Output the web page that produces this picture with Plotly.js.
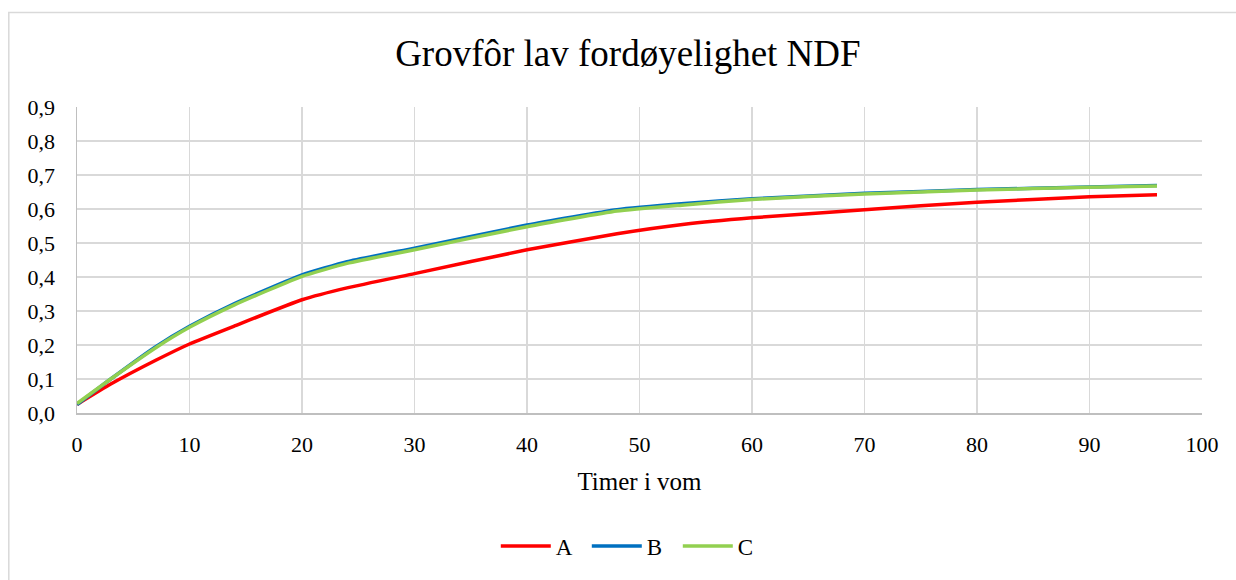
<!DOCTYPE html>
<html>
<head>
<meta charset="utf-8">
<script src="https://cdn.plot.ly/plotly-3.0.1.min.js"></script>
<style>
html,body{margin:0;padding:0;background:#fff;}
#chart{width:1236px;height:580px;}
</style>
</head>
<body>
<div id="chart"></div>
<script>
var hours = [0, 3, 7, 10, 14, 20, 24, 30, 40, 48, 54, 60, 70, 80, 90, 96];
var seriesA = [0.025, 0.085, 0.155, 0.203, 0.256, 0.333, 0.368, 0.410, 0.480, 0.527, 0.555, 0.574, 0.598, 0.620, 0.636, 0.642];
var seriesB = [0.025, 0.100, 0.195, 0.255, 0.322, 0.406, 0.445, 0.485, 0.553, 0.598, 0.616, 0.630, 0.646, 0.657, 0.665, 0.669];
var seriesC = [0.028, 0.100, 0.192, 0.252, 0.318, 0.402, 0.440, 0.480, 0.548, 0.594, 0.612, 0.628, 0.644, 0.656, 0.664, 0.668];
var names = ['A', 'B', 'C'];
var colors = ['#ff0000', '#0070c0', '#92d050'];
var titleText = 'Grovfôr lav fordøyelighet NDF';
var xTitle = 'Timer i vom';
var xTickVals = [0, 10, 20, 30, 40, 50, 60, 70, 80, 90, 100];
var yTickVals = [0, 0.1, 0.2, 0.3, 0.4, 0.5, 0.6, 0.7, 0.8, 0.9];
var yTickText = ['0,0', '0,1', '0,2', '0,3', '0,4', '0,5', '0,6', '0,7', '0,8', '0,9'];

var font = 'Liberation Serif, Times New Roman, serif';
var allY = [seriesA, seriesB, seriesC];
var traces = allY.map(function (ys, i) {
  return {
    x: hours, y: ys, name: names[i], type: 'scatter', mode: 'lines',
    line: {color: colors[i], width: 3.5, shape: 'spline', smoothing: 0.45}
  };
});

var L = 76.7, R = 34.3, T = 106.7, B = 165;
var W = 1236 - L - R, H = 580 - T - B;

var layout = {
  width: 1236, height: 580,
  margin: {l: L, r: R, t: T, b: B, pad: 0},
  paper_bgcolor: '#ffffff', plot_bgcolor: '#ffffff',
  font: {family: font, size: 22, color: '#000'},
  title: {text: titleText, font: {family: font, size: 37, color: '#000'}, x: 0.508, xanchor: 'center', y: 0.908, yanchor: 'middle'},
  xaxis: {
    range: [0, 100], tickvals: xTickVals,
    showgrid: true, gridcolor: '#d9d9d9', gridwidth: 1.5,
    showline: true, linecolor: '#bfbfbf', linewidth: 1.5,
    zeroline: false, ticks: '', ticklabelstandoff: 11,
    tickfont: {family: font, size: 22, color: '#000'},
    title: {text: xTitle, font: {family: font, size: 25, color: '#000'}, standoff: 16}
  },
  yaxis: {
    range: [0, 0.9], tickvals: yTickVals, ticktext: yTickText,
    showgrid: true, gridcolor: '#d9d9d9', gridwidth: 1.5,
    showline: true, linecolor: '#bfbfbf', linewidth: 1.5,
    zeroline: false, ticks: '', ticklabelstandoff: 16,
    tickfont: {family: font, size: 22, color: '#000'}
  },
  showlegend: true,
  legend: {orientation: 'h', x: (632 - L) / W, xanchor: 'center', y: (415 - 549) / H, yanchor: 'middle',
           font: {family: font, size: 23, color: '#000'}, itemwidth: 50, tracegroupgap: 0,
           entrywidth: 26, entrywidthmode: 'pixels'},
  shapes: [{
    type: 'rect', xref: 'paper', yref: 'paper',
    x0: (8.5 - L) / W, x1: (1260 - L) / W,
    y0: -(600 - 415) / H, y1: (415 - 11.5) / H,
    line: {color: '#d9d9d9', width: 1.5}, fillcolor: 'rgba(0,0,0,0)', layer: 'below'
  }]
};

Plotly.newPlot('chart', traces, layout, {displayModeBar: false, staticPlot: true});
</script>
</body>
</html>
